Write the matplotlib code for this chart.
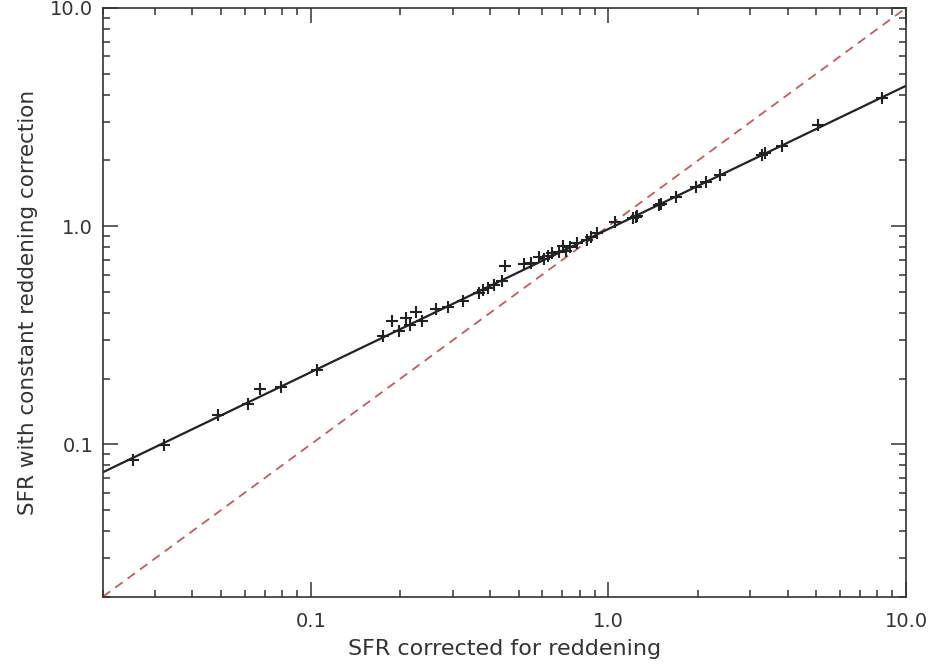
import numpy as np
import matplotlib
matplotlib.use("Agg")
import matplotlib.pyplot as plt
from matplotlib.ticker import FixedLocator, LogLocator, NullFormatter

# SFR values
sfr_corrected = [
    0.0252, 0.0320, 0.0487, 0.0615, 0.0675, 0.0794, 0.105,
    0.1754, 0.188, 0.1983, 0.2094, 0.216, 0.2264, 0.2355, 0.2624,
    0.290, 0.3236, 0.3664, 0.378, 0.3927, 0.4115, 0.4378, 0.448,
    0.5196, 0.5485, 0.5834, 0.6067, 0.626, 0.6457, 0.682, 0.7035,
    0.720, 0.743, 0.784, 0.8475, 0.874, 0.916, 1.053, 1.211, 1.240,
    1.249, 1.482, 1.505, 1.691, 1.975, 2.135, 2.362, 3.271, 3.348,
    3.82, 5.06, 8.31,
]
sfr_constant = [
    0.0845, 0.0990, 0.136, 0.1524, 0.1786, 0.1824, 0.218,
    0.312, 0.366, 0.329, 0.381, 0.354, 0.402, 0.369, 0.415,
    0.428, 0.456, 0.496, 0.507, 0.523, 0.540, 0.563, 0.659,
    0.667, 0.681, 0.725, 0.710, 0.733, 0.756, 0.764, 0.814,
    0.773, 0.806, 0.841, 0.867, 0.895, 0.934, 1.048, 1.094, 1.105,
    1.117, 1.254, 1.267, 1.365, 1.517, 1.599, 1.721, 2.125, 2.170,
    2.336, 2.914, 3.873,
]

# fitted relation (end points) and one-to-one line
fit_x = [0.02, 10.0]
fit_y = [0.0744, 4.4]
one_to_one = [0.02, 10.0]

major_ticks = [0.1, 1.0, 10.0]
major_labels = ["0.1", "1.0", "10.0"]

plt.rcParams["font.family"] = ["DejaVu Sans"]

fig = plt.figure(figsize=(9.35, 6.66), dpi=100)
ax = fig.add_axes([0.110, 0.104, 0.859, 0.884])

ax.plot(one_to_one, one_to_one, linestyle=(0, (5, 3.5)), color="#c85a5a", lw=1.3)
ax.plot(fit_x, fit_y, color="#222222", lw=1.6)
ax.scatter(sfr_corrected, sfr_constant, marker="+", s=80, color="#222222", linewidths=1.5, zorder=3)

ax.set_xscale("log")
ax.set_yscale("log")
ax.set_xlim(0.02, 10.0)
ax.set_ylim(0.02, 10.0)

for axis in (ax.xaxis, ax.yaxis):
    axis.set_major_locator(FixedLocator(major_ticks))
    axis.set_minor_locator(LogLocator(base=10, subs=np.arange(2, 10)))
    axis.set_minor_formatter(NullFormatter())
ax.set_xticklabels(major_labels)
ax.set_yticklabels(major_labels)

ax.tick_params(which="both", direction="in", top=True, right=True, width=1.1, colors="#333333", labelcolor="#333333")
ax.tick_params(which="major", length=11, labelsize=14, pad=7)
ax.tick_params(axis="x", which="major", pad=11)
ax.tick_params(which="minor", length=5)
for sp in ax.spines.values():
    sp.set_linewidth(1.2)
    sp.set_color("#333333")

ax.set_xlabel("SFR corrected for reddening", fontsize=16, color="#333333", labelpad=6)
ax.set_ylabel("SFR with constant reddening correction", fontsize=15.5, color="#333333", labelpad=9)

fig.savefig("out.png", dpi=100)
